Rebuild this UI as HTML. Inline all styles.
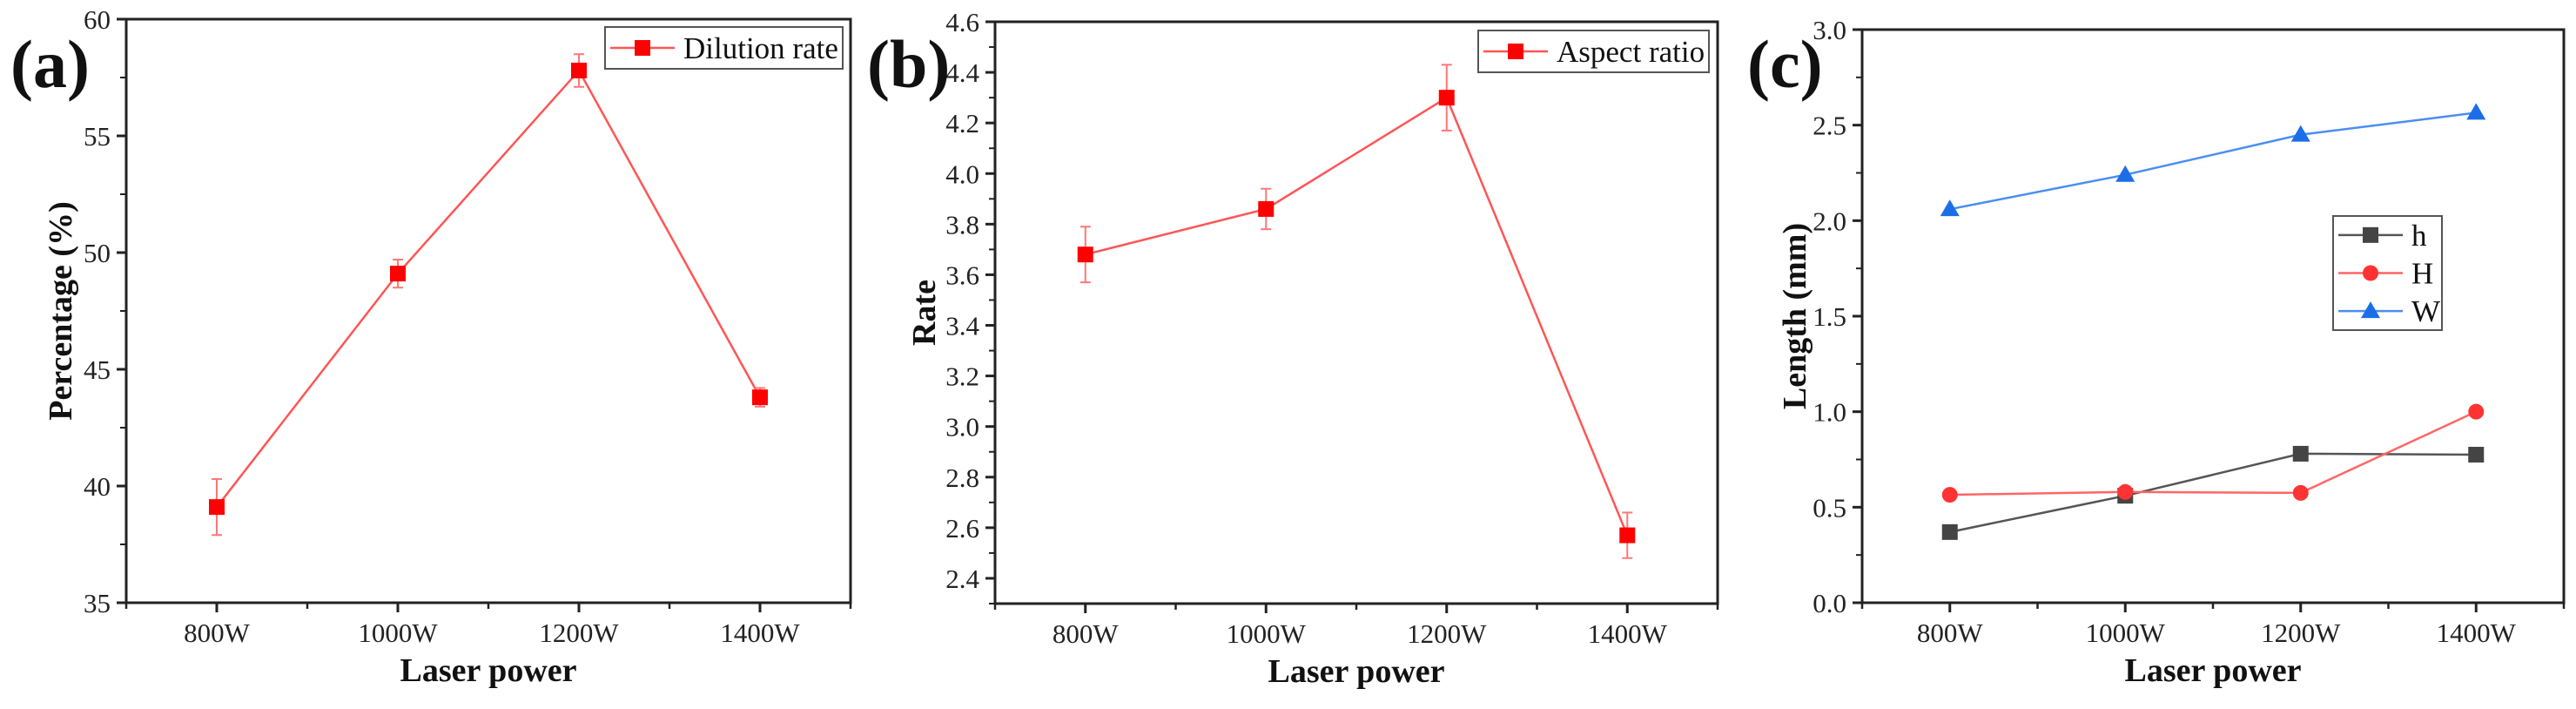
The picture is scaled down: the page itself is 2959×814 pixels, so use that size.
<!DOCTYPE html>
<html><head><meta charset="utf-8"><style>
html,body{margin:0;padding:0;background:#fff;}
svg{display:block;font-family:"Liberation Serif",serif;}
</style></head><body>
<svg id="fig" width="2959" height="814" viewBox="0 0 2959 814" xmlns="http://www.w3.org/2000/svg"></svg>
<script>
const categories = ["800W","1000W","1200W","1400W"];
const dilutionValues = [39.1, 49.1, 57.8, 43.8];
const dilutionErrors = [1.2, 0.6, 0.7, 0.4];
const aspectValues = [3.68, 3.86, 4.30, 2.57];
const aspectErrors = [0.11, 0.08, 0.13, 0.09];
const hValues = [0.37, 0.56, 0.78, 0.775];
const HValues = [0.565, 0.58, 0.575, 1.0];
const WValues = [2.06, 2.24, 2.45, 2.565];
const aTicks = ["35","40","45","50","55","60"];
const bTicks = ["2.4","2.6","2.8","3.0","3.2","3.4","3.6","3.8","4.0","4.2","4.4","4.6"];
const cTicks = ["0.0","0.5","1.0","1.5","2.0","2.5","3.0"];

const NS="http://www.w3.org/2000/svg";
const svg=document.getElementById('fig');
function mk(tag,attrs,parent,text){const e=document.createElementNS(NS,tag);for(const k in attrs)e.setAttribute(k,attrs[k]);if(text!==undefined)e.textContent=text;(parent||svg).appendChild(e);return e;}

function panel(cfg){
  const g=mk('g',{});
  
  
  const L=cfg.left,R=cfg.right,T=cfg.top,B=cfg.bottom;
  const xs=v=>L+(v+0.5)/4*(R-L);
  const ys=v=>B-(v-cfg.ymin)/(cfg.ymax-cfg.ymin)*(B-T);
  const frame=mk('rect',{x:L,y:T,width:R-L,height:B-T,fill:'none',stroke:'#222','stroke-width':3},g);
  
  
  // x ticks
  for(let i=0;i<4;i++){
    mk('line',{x1:xs(i),y1:B,x2:xs(i),y2:B+11,stroke:'#222','stroke-width':3},g);
    const t=mk('text',{x:xs(i),y:B+45,'font-size':31,'text-anchor':'middle',fill:'#222'},g,categories[i]);
    
    
  }
  for(let i=0;i<5;i++){const x=xs(i-0.5);mk('line',{x1:x,y1:B,x2:x,y2:B+7,stroke:'#222','stroke-width':2.5},g);}
  // y ticks
  cfg.ticks.forEach(s=>{
    const v=parseFloat(s),y=ys(v);
    mk('line',{x1:L,y1:y,x2:L-11,y2:y,stroke:'#222','stroke-width':3},g);
    const t=mk('text',{x:L-18,y:y+11,'font-size':31,'text-anchor':'end',fill:'#222'},g,s);
    
    
  });
  for(let v=cfg.ymin;v<=cfg.ymax+1e-9;v+=cfg.minor){mk('line',{x1:L,y1:ys(v),x2:L-7,y2:ys(v),stroke:'#222','stroke-width':2},g);}
  // titles
  const xt=mk('text',{x:(L+R)/2,y:B+90,'font-size':38,'font-weight':'bold','text-anchor':'middle',fill:'#111'},g,'Laser power');
  
  
  const yc=(T+B)/2;
  const yt=mk('text',{x:cfg.ytx,y:yc,'font-size':38,'font-weight':'bold','text-anchor':'middle',fill:'#111',transform:`rotate(-90 ${cfg.ytx} ${yc})`},g,cfg.ytitle);
  
  
  const pl=mk('text',{x:cfg.lx,y:100,'font-size':78,'font-weight':'bold',fill:'#111'},g,cfg.letter);
  
  
  // series
  cfg.series.forEach(s=>{
    const sg=mk('g',{},g);
    
    
    const pts=s.values.map((v,i)=>xs(i)+','+ys(v)).join(' ');
    mk('polyline',{points:pts,fill:'none',stroke:s.line,'stroke-width':2.5},sg);
    s.values.forEach((v,i)=>{
      const x=xs(i),y=ys(v);
      if(s.err){const e=s.err[i];
        mk('line',{x1:x,y1:ys(v+e),x2:x,y2:ys(v-e),stroke:'#f77','stroke-width':2},sg);
        mk('line',{x1:x-6,y1:ys(v+e),x2:x+6,y2:ys(v+e),stroke:'#f77','stroke-width':2},sg);
        mk('line',{x1:x-6,y1:ys(v-e),x2:x+6,y2:ys(v-e),stroke:'#f77','stroke-width':2},sg);}
      const m=marker(s.shape,x,y,s.fill,sg);
      
      
    });
  });
  // legend
  const lg=mk('g',{},g);
  
  
  const lb=cfg.legend;
  mk('rect',{x:lb.x,y:lb.y,width:lb.w,height:lb.h,fill:'#fff',stroke:'#555','stroke-width':2},lg);
  cfg.series.forEach((s,i)=>{
    const ly=lb.y+lb.h/(cfg.series.length)*(i+0.5);
    const e=mk('g',{},lg);
    
    
    mk('line',{x1:lb.x+6,y1:ly,x2:lb.x+lb.lineW,y2:ly,stroke:s.line,'stroke-width':2.5},e);
    marker(s.shape,lb.x+6+(lb.lineW-6)/2,ly,s.fill,e);
    mk('text',{x:lb.x+lb.lineW+10,y:ly+12,'font-size':35,fill:'#111'},e,s.label);
  });
}
function marker(shape,x,y,fill,p){
  if(shape==='sq')return mk('rect',{x:x-9,y:y-9,width:18,height:18,fill:fill},p);
  if(shape==='circ')return mk('circle',{cx:x,cy:y,r:9,fill:fill},p);
  return mk('polygon',{points:`${x},${y-11} ${x+11},${y+8} ${x-11},${y+8}`,fill:fill},p);
}

panel({name:'panel-a-dilution',left:145,right:977,top:22,bottom:692,ymin:35,ymax:60,minor:2.5,ticks:aTicks,
  ytitle:'Percentage (%)',ytx:82,letter:'(a)',lx:12,
  legend:{x:695,y:31,w:273,h:48,lineW:80},
  series:[{label:'Dilution rate',values:dilutionValues,err:dilutionErrors,line:'#f55',fill:'#f00',shape:'sq'}]});
panel({name:'panel-b-aspect',left:1143,right:1973,top:25,bottom:693,ymin:2.3,ymax:4.6,minor:0.1,ticks:bTicks,
  ytitle:'Rate',ytx:1074,letter:'(b)',lx:996,
  legend:{x:1698,y:35,w:265,h:48,lineW:80},
  series:[{label:'Aspect ratio',values:aspectValues,err:aspectErrors,line:'#f55',fill:'#f00',shape:'sq'}]});
panel({name:'panel-c-length',left:2139,right:2945,top:34,bottom:692,ymin:0,ymax:3,minor:0.25,ticks:cTicks,
  ytitle:'Length (mm)',ytx:2074,letter:'(c)',lx:2007,
  legend:{x:2680,y:248,w:125,h:131,lineW:80},
  series:[{label:'h',values:hValues,line:'#555',fill:'#444',shape:'sq'},
          {label:'H',values:HValues,line:'#f66',fill:'#f33',shape:'circ'},
          {label:'W',values:WValues,line:'#4a8ef0',fill:'#1c6ee8',shape:'tri'}]});
</script>
</body></html>
